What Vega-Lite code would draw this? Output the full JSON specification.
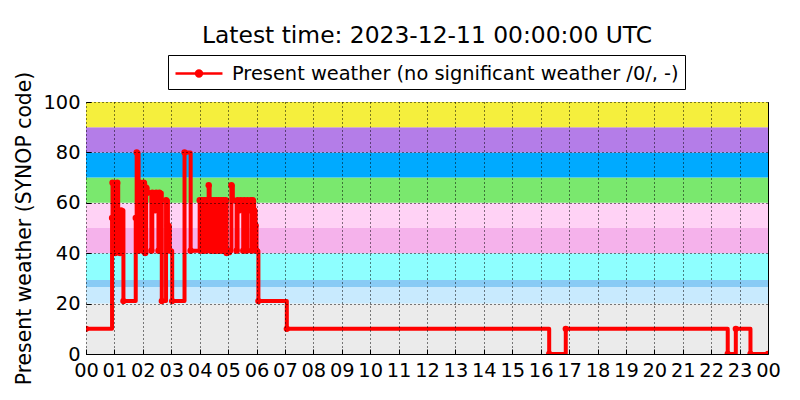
{
  "$schema": "https://vega.github.io/schema/vega-lite/v6.json",
  "width": 682,
  "height": 252,
  "autosize": "none",
  "padding": {"left": 86, "top": 102, "right": 32, "bottom": 46},
  "background": "white",
  "config": {
    "font": "DejaVu Sans",
    "view": {"stroke": "black", "strokeWidth": 1},
    "axis": {
      "grid": true,
      "gridDash": [1, 3],
      "gridColor": "black",
      "gridOpacity": 1,
      "gridWidth": 1,
      "domain": false,
      "ticks": true,
      "tickSize": -5,
      "tickColor": "black",
      "labelFont": "DejaVu Sans",
      "labelFontSize": 19.4,
      "labelColor": "black",
      "labelOverlap": false,
      "labelFlush": false,
      "titleFont": "DejaVu Sans",
      "titleFontSize": 20.4,
      "titleFontWeight": "normal",
      "titleColor": "black"
    }
  },
  "title": {
    "text": "Latest time: 2023-12-11 00:00:00 UTC",
    "font": "DejaVu Sans",
    "fontSize": 23.4,
    "fontWeight": "normal",
    "color": "black",
    "anchor": "middle",
    "offset": 6
  },
  "datasets": {
    "bands": [
      {"lo": 0, "hi": 20, "band": "b0"},
      {"lo": 20, "hi": 26.6, "band": "b1"},
      {"lo": 26.6, "hi": 29.4, "band": "b2"},
      {"lo": 29.4, "hi": 40, "band": "b3"},
      {"lo": 40, "hi": 50, "band": "b4"},
      {"lo": 50, "hi": 60, "band": "b5"},
      {"lo": 60, "hi": 70, "band": "b6"},
      {"lo": 70, "hi": 80, "band": "b7"},
      {"lo": 80, "hi": 90, "band": "b8"},
      {"lo": 90, "hi": 100, "band": "b9"}
    ],
    "wx": [
      {"h": 0, "v": 10},
      {"h": 0.917, "v": 54},
      {"h": 0.933, "v": 68},
      {"h": 1.0, "v": 67},
      {"h": 1.033, "v": 40},
      {"h": 1.05, "v": 66},
      {"h": 1.1, "v": 68},
      {"h": 1.133, "v": 41},
      {"h": 1.167, "v": 45},
      {"h": 1.2, "v": 40},
      {"h": 1.233, "v": 57},
      {"h": 1.317, "v": 21},
      {"h": 1.75, "v": 54},
      {"h": 1.783, "v": 80},
      {"h": 1.85, "v": 41},
      {"h": 1.9, "v": 68},
      {"h": 2.0, "v": 41},
      {"h": 2.033, "v": 68},
      {"h": 2.083, "v": 40},
      {"h": 2.117, "v": 66},
      {"h": 2.167, "v": 64},
      {"h": 2.3, "v": 41},
      {"h": 2.333, "v": 64},
      {"h": 2.433, "v": 57},
      {"h": 2.467, "v": 64},
      {"h": 2.55, "v": 41},
      {"h": 2.583, "v": 64},
      {"h": 2.667, "v": 21},
      {"h": 2.817, "v": 61},
      {"h": 2.883, "v": 51},
      {"h": 2.95, "v": 41},
      {"h": 3.033, "v": 21},
      {"h": 3.467, "v": 80},
      {"h": 3.683, "v": 41},
      {"h": 4.0, "v": 61},
      {"h": 4.05, "v": 41},
      {"h": 4.083, "v": 61},
      {"h": 4.133, "v": 41},
      {"h": 4.167, "v": 61},
      {"h": 4.217, "v": 41},
      {"h": 4.25, "v": 61},
      {"h": 4.317, "v": 67},
      {"h": 4.35, "v": 61},
      {"h": 4.383, "v": 41},
      {"h": 4.417, "v": 61},
      {"h": 4.467, "v": 41},
      {"h": 4.5, "v": 61},
      {"h": 4.55, "v": 41},
      {"h": 4.583, "v": 61},
      {"h": 4.633, "v": 41},
      {"h": 4.667, "v": 61},
      {"h": 4.717, "v": 41},
      {"h": 4.75, "v": 61},
      {"h": 4.8, "v": 41},
      {"h": 4.833, "v": 61},
      {"h": 4.883, "v": 41},
      {"h": 4.917, "v": 61},
      {"h": 4.95, "v": 40},
      {"h": 5.067, "v": 41},
      {"h": 5.117, "v": 67},
      {"h": 5.167, "v": 61},
      {"h": 5.3, "v": 41},
      {"h": 5.333, "v": 61},
      {"h": 5.4, "v": 57},
      {"h": 5.45, "v": 61},
      {"h": 5.533, "v": 41},
      {"h": 5.567, "v": 61},
      {"h": 5.617, "v": 57},
      {"h": 5.65, "v": 41},
      {"h": 5.683, "v": 61},
      {"h": 5.75, "v": 57},
      {"h": 5.8, "v": 61},
      {"h": 5.833, "v": 41},
      {"h": 5.867, "v": 61},
      {"h": 5.917, "v": 57},
      {"h": 5.967, "v": 51},
      {"h": 6.0, "v": 41},
      {"h": 6.067, "v": 21},
      {"h": 7.067, "v": 10},
      {"h": 16.3, "v": 0},
      {"h": 16.883, "v": 10},
      {"h": 22.583, "v": 0},
      {"h": 22.867, "v": 10},
      {"h": 23.383, "v": 0},
      {"h": 24, "v": 0}
    ]
  },
  "layer": [
    {
      "data": {"name": "bands"},
      "mark": {"type": "rect"},
      "encoding": {
        "y": {
          "field": "lo",
          "type": "quantitative",
          "scale": {"domain": [0, 100], "nice": false},
          "axis": {
            "values": [0, 20, 40, 60, 80, 100],
            "title": "Present weather (SYNOP code)",
            "labelPadding": 11,
            "titlePadding": 8,
            "zindex": 1
          }
        },
        "y2": {"field": "hi"},
        "color": {
          "field": "band",
          "type": "nominal",
          "scale": {
            "domain": ["b0", "b1", "b2", "b3", "b4", "b5", "b6", "b7", "b8", "b9"],
            "range": ["#ebebeb", "#c8eafe", "#88cbf5", "#8effff", "#f5b2eb", "#ffd2f5", "#7ae86e", "#00aaff", "#b47de8", "#f5ef3d"]
          },
          "legend": null
        }
      }
    },
    {
      "data": {"name": "wx"},
      "mark": {
        "type": "line",
        "interpolate": "step-after",
        "strokeWidth": 4,
        "strokeJoin": "round",
        "strokeCap": "round",
        "clip": true,
        "point": {"filled": true, "size": 40, "color": "#ff0000"}
      },
      "encoding": {
        "x": {
          "field": "h",
          "type": "quantitative",
          "scale": {"domain": [0, 24], "nice": false, "zero": false},
          "axis": {
            "values": [0, 1, 2, 3, 4, 5, 6, 7, 8, 9, 10, 11, 12, 13, 14, 15, 16, 17, 18, 19, 20, 21, 22, 23, 24],
            "labelExpr": "(datum.value % 24 < 10 ? '0' : '') + (datum.value % 24)",
            "title": null,
            "labelPadding": 12,
            "zindex": 1
          }
        },
        "y": {"field": "v", "type": "quantitative"},
        "color": {
          "datum": "Present weather (no significant weather /0/, -)",
          "scale": {"range": ["#ff0000"]},
          "legend": {
            "orient": "none",
            "legendX": 82,
            "legendY": -47,
            "direction": "horizontal",
            "title": null,
            "strokeColor": "black",
            "fillColor": "white",
            "padding": 6,
            "cornerRadius": 0,
            "symbolType": "M-1,0H3.27M0.865,0A0.27,0.27,0,1,1,1.405,0A0.27,0.27,0,1,1,0.865,0Z",
            "symbolSize": 484,
            "symbolStrokeWidth": 2.5,
            "symbolFillColor": "#ff0000",
            "symbolStrokeColor": "#ff0000",
            "labelFont": "DejaVu Sans",
            "labelFontSize": 19.4,
            "labelColor": "black",
            "labelOffset": 33,
            "labelLimit": 0
          }
        }
      }
    }
  ],
  "resolve": {"scale": {"color": "independent"}}
}
